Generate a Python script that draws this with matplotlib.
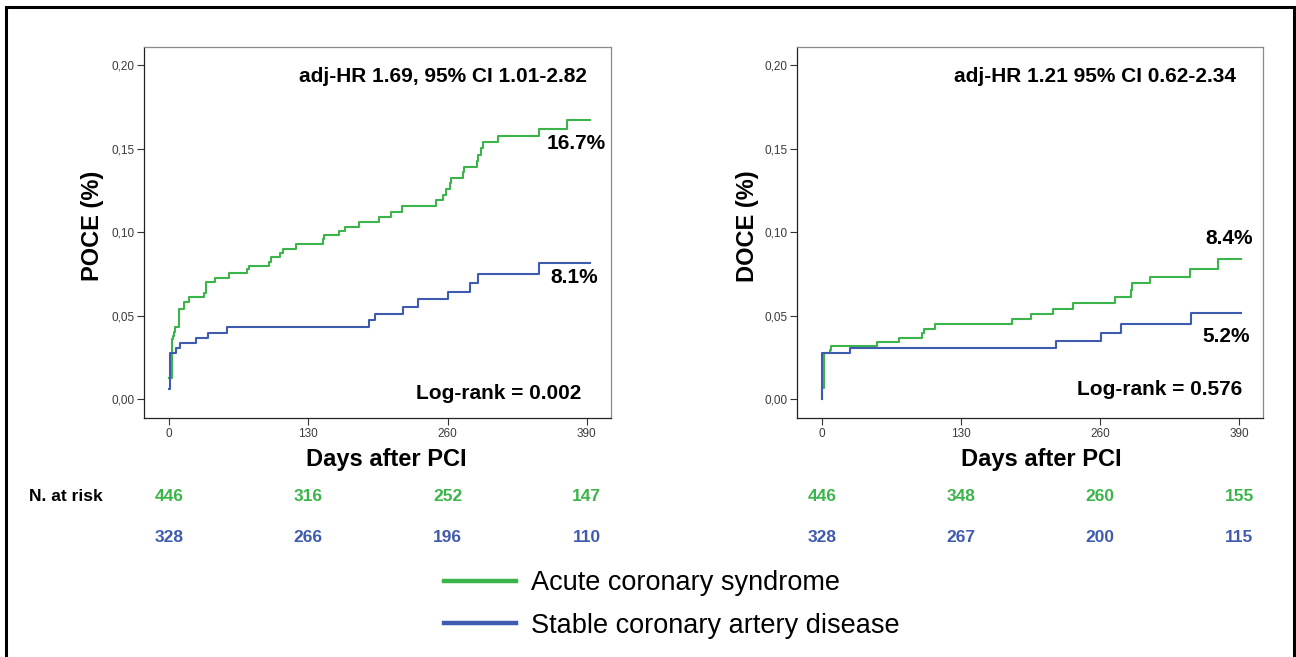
import matplotlib
matplotlib.use("Agg")
import matplotlib.pyplot as plt
from matplotlib.patches import Rectangle
from matplotlib.ticker import FuncFormatter
from matplotlib.transforms import blended_transform_factory

plt.rcParams['font.family'] = ['Liberation Sans', 'DejaVu Sans']

# ---------------- data ----------------
GREEN = '#3BB54A'
BLUE = '#3F5BAF'
series_labels = ['Acute coronary syndrome', 'Stable coronary artery disease']

poce_acs_days = [0, 3, 4, 5, 6, 9.5, 14, 19, 33, 35, 43, 56, 73, 75, 93.5, 95.6, 103.4, 106.5,
                 118.4, 143.9, 144.9, 158.9, 164.2, 177.6, 196.3, 206.9, 217.1, 248.9, 256.1,
                 258.6, 262.3, 263, 274.8, 275.4, 287.2, 288.8, 291, 293.5, 307.5, 345.5, 371.3, 393]
poce_acs_vals = [0.013, 0.036, 0.038, 0.040, 0.043, 0.054, 0.058, 0.061, 0.0634, 0.0704, 0.0728,
                 0.0754, 0.0778, 0.080, 0.0824, 0.085, 0.0873, 0.0899, 0.0929, 0.0957, 0.0983,
                 0.1007, 0.1033, 0.1063, 0.1093, 0.1123, 0.1157, 0.1192, 0.1222, 0.1258, 0.1292,
                 0.1326, 0.1362, 0.1392, 0.1428, 0.1462, 0.1501, 0.1537, 0.1573, 0.1619, 0.1671, 0.1671]

poce_scad_days = [0, 0.6, 6.2, 10.6, 25.5, 36.4, 54.2, 186.9, 192.2, 218.7, 232.7, 260.7, 281,
                  288.8, 345.5, 393]
poce_scad_vals = [0.006, 0.0275, 0.0305, 0.0335, 0.0369, 0.0399, 0.0435, 0.0475, 0.051, 0.0554,
                  0.0598, 0.0644, 0.0694, 0.0748, 0.0814, 0.0814]

doce_acs_days = [0, 0.3, 1.5, 7.1, 8.7, 51.5, 72.2, 93.3, 95.5, 105.7, 177.6, 195.3, 216.4, 235,
                 273.7, 289.2, 290.1, 306.3, 343.5, 370.4, 392]
doce_acs_vals = [0.0, 0.0066, 0.0275, 0.0295, 0.0319, 0.0343, 0.0369, 0.0395, 0.0423, 0.0449,
                 0.0479, 0.051, 0.0542, 0.0578, 0.0614, 0.0654, 0.0694, 0.0734, 0.0782, 0.0837, 0.0837]

doce_scad_days = [0, 0.5, 26.7, 218.5, 260.4, 279.9, 345, 392]
doce_scad_vals = [0.0, 0.0275, 0.0305, 0.0349, 0.0399, 0.0449, 0.0514, 0.0514]

x_ticks = [0, 130, 260, 390]
y_ticks = [0.0, 0.05, 0.10, 0.15, 0.20]

poce_risk_acs = [446, 316, 252, 147]
poce_risk_scad = [328, 266, 196, 110]
doce_risk_acs = [446, 348, 260, 155]
doce_risk_scad = [328, 267, 200, 115]

panels = [
    dict(ylabel='POCE (%)', acs=(poce_acs_days, poce_acs_vals), scad=(poce_scad_days, poce_scad_vals),
         hr='adj-HR 1.69, 95% CI 1.01-2.82', hr_pos=(255.7, 0.1934),
         end_acs='16.7%', end_acs_pos=(380.5, 0.1532),
         end_scad='8.1%', end_scad_pos=(378, 0.0727),
         logrank='Log-rank = 0.002', logrank_pos=(307.6, 0.0036),
         risk_acs=poce_risk_acs, risk_scad=poce_risk_scad,
         rect=[0.1113, 0.3633, 0.3601, 0.5656], ylab_x=-0.111, xlab_x=0.518),
    dict(ylabel='DOCE (%)', acs=(doce_acs_days, doce_acs_vals), scad=(doce_scad_days, doce_scad_vals),
         hr='adj-HR 1.21 95% CI 0.62-2.34', hr_pos=(255.1, 0.1934),
         end_acs='8.4%', end_acs_pos=(380.6, 0.0963),
         end_scad='5.2%', end_scad_pos=(378.1, 0.0374),
         logrank='Log-rank = 0.576', logrank_pos=(315.8, 0.0060),
         risk_acs=doce_risk_acs, risk_scad=doce_risk_scad,
         rect=[0.6152, 0.3633, 0.3596, 0.5656], ylab_x=-0.106, xlab_x=0.523),
]

# ---------------- figure ----------------
fig = plt.figure(figsize=(12.96, 6.57), dpi=100)
fig.patch.set_facecolor('white')

narrow = ['Liberation Sans Narrow', 'Liberation Sans', 'DejaVu Sans']
fmt = FuncFormatter(lambda v, p: f"{v:.2f}".replace('.', ','))

handles = []
for i, p in enumerate(panels):
    ax = fig.add_axes(p['rect'])
    l1, = ax.step(p['acs'][0], p['acs'][1], where='post', color=GREEN, lw=1.5, zorder=3)
    l2, = ax.step(p['scad'][0], p['scad'][1], where='post', color=BLUE, lw=1.5, zorder=3)
    if i == 0:
        handles = [l1, l2]
    ax.set_xlim(-23, 412.5)
    ax.set_ylim(-0.0114, 0.211)
    ax.set_xticks(x_ticks)
    ax.set_yticks(y_ticks)
    ax.yaxis.set_major_formatter(fmt)
    ax.tick_params(axis='both', direction='out', length=5, width=0.8, color='#333333',
                   labelsize=8.5, labelcolor='#3a3a3a', pad=2)
    for lab in ax.get_xticklabels() + ax.get_yticklabels():
        lab.set_family(narrow)
    for side in ['top', 'right']:
        ax.spines[side].set_color('#8a8a8a')
        ax.spines[side].set_linewidth(0.9)
    for side in ['left', 'bottom']:
        ax.spines[side].set_color('#222222')
        ax.spines[side].set_linewidth(0.9)

    ax.set_ylabel(p['ylabel'], fontsize=17, fontweight='bold', va='center')
    ax.yaxis.set_label_coords(p['ylab_x'], 0.5175)
    ax.set_xlabel('Days after PCI', fontsize=17, fontweight='bold', va='center')
    ax.xaxis.set_label_coords(p['xlab_x'], -0.112)

    tkw = dict(fontsize=15, fontweight='bold', ha='center', va='center', color='black')
    ax.text(*p['hr_pos'], p['hr'], **tkw)
    ax.text(*p['end_acs_pos'], p['end_acs'], **tkw)
    ax.text(*p['end_scad_pos'], p['end_scad'], **tkw)
    ax.text(*p['logrank_pos'], p['logrank'], **tkw)

    tr = blended_transform_factory(ax.transData, fig.transFigure)
    for x, n in zip(x_ticks, p['risk_acs']):
        ax.text(x, 1 - 496.7 / 657, str(n), transform=tr, color=GREEN, fontsize=12.5,
                fontweight='bold', ha='center', va='center', clip_on=False)
    for x, n in zip(x_ticks, p['risk_scad']):
        ax.text(x, 1 - 537.7 / 657, str(n), transform=tr, color=BLUE, fontsize=12.5,
                fontweight='bold', ha='center', va='center', clip_on=False)

fig.text(29 / 1296, 1 - 496.7 / 657, 'N. at risk', fontsize=12.5, fontweight='bold',
         ha='left', va='center')

leg = fig.legend(handles, series_labels, loc='center left',
                 bbox_to_anchor=(444 / 1296, 1 - 604.5 / 657), frameon=False,
                 fontsize=19.5, handlelength=2.66, handletextpad=0.55,
                 labelspacing=0.62, borderpad=0, borderaxespad=0)
for h in leg.legend_handles:
    h.set_linewidth(3.2)

fig.add_artist(Rectangle((6 / 1296, -0.05), (1294 - 6) / 1296, (1 - 7 / 657) + 0.05,
                         transform=fig.transFigure, fill=False, lw=2.2, ec='black'))

fig.savefig('out.png', dpi=100)
